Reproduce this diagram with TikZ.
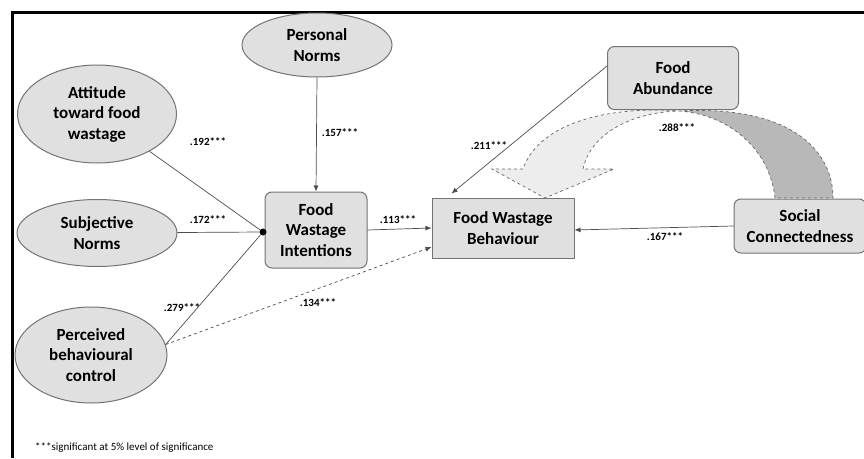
\documentclass[tikz,border=0pt]{standalone}
\usepackage{fontspec}
\setmainfont{Carlito}
\usepackage{xcolor}
\usepackage{tikz}
\usetikzlibrary{arrows.meta}
\usetikzlibrary{shapes.geometric, calc}
\definecolor{fondgris}{rgb}{0.88, 0.88, 0.88}
\definecolor{bordgris}{rgb}{0.45, 0.45, 0.45}
\definecolor{rubanclair}{rgb}{0.93, 0.93, 0.93}
\definecolor{rubanfonce}{rgb}{0.72, 0.72, 0.72}

\tikzset{
    ellipsenoeud/.style={ellipse, draw=bordgris, fill=fondgris, line width=1pt, inner sep=0pt, align=center, font=\fontsize{17}{20.5}\selectfont\bfseries},
    boiteronde/.style={rectangle, rounded corners=7pt, draw=bordgris, fill=fondgris, line width=1pt, inner sep=0pt, align=center, font=\fontsize{17}{20.5}\selectfont\bfseries},
    boitecarree/.style={rectangle, draw=bordgris, fill=fondgris, line width=1pt, inner sep=0pt, align=center, font=\fontsize{17}{20.5}\selectfont\bfseries},
    coef/.style={font=\fontsize{11}{12}\selectfont\bfseries, inner sep=1pt},
    fleche/.style={-{Latex[length=6pt, width=5pt]}, line width=0.7pt, draw=black!70}
}

\begin{document}
\begin{tikzpicture}[x=1pt, y=-1pt]
    \useasboundingbox (0, 0) rectangle (864, 458);

    % Cadre
    \draw[line width=3pt] (12, 458) -- (12, 12) -- (864, 12);

    % Ruban courbe entre les deux facteurs
    \fill[rubanfonce] (775, 198) .. controls (770, 150) and (730, 115) .. (680, 111)
        .. controls (790, 105) and (833, 150) .. (833, 198) -- cycle;
    \draw[dashed, draw=black!60, line width=0.7pt] (775, 198) .. controls (770, 150) and (730, 115) .. (680, 111)
        .. controls (790, 105) and (833, 150) .. (833, 198) -- cycle;
    \fill[rubanclair] (583, 169) .. controls (590, 135) and (630, 112) .. (680, 111)
        .. controls (615, 106) and (540, 120) .. (523, 169) -- (492, 169) -- (545, 198) -- (614, 169) -- cycle;
    \draw[dashed, draw=black!60, line width=0.7pt] (583, 169) .. controls (590, 135) and (630, 112) .. (680, 111)
        .. controls (615, 106) and (540, 120) .. (523, 169) -- (492, 169) -- (545, 198) -- (614, 169) -- cycle;

    % Variables latentes
    \node[ellipsenoeud, minimum width=150, minimum height=64] (pn) at (317, 45) {Personal\\Norms};
    \node[ellipsenoeud, minimum width=159, minimum height=98] (att) at (97, 114) {Attitude\\toward food\\wastage};
    \node[ellipsenoeud, minimum width=160, minimum height=67] (sn) at (97, 233) {Subjective\\Norms};
    \node[ellipsenoeud, minimum width=152, minimum height=96] (pbc) at (91, 355) {Perceived\\behavioural\\control};

    % Boites
    \node[boiteronde, minimum width=102, minimum height=76] (fwi) at (316, 230) {Food\\Wastage\\Intentions};
    \node[boitecarree, minimum width=142, minimum height=60] (fwb) at (503, 228) {Food Wastage\\Behaviour};
    \node[boiteronde, minimum width=131, minimum height=63] (fa) at (673, 78) {Food\\Abundance};
    \node[boiteronde, minimum width=132, minimum height=54] (sc) at (800, 226) {Social\\Connectedness};

    % Point de jonction
    \node[circle, fill=black, inner sep=0pt, minimum size=7pt] (jn) at (263, 232) {};

    % Liens
    \draw[line width=0.7pt, draw=black!70] (att) -- (jn);
    \draw[line width=0.7pt, draw=black!70] (sn) -- (jn);
    \draw[line width=0.7pt, draw=black!70] (pbc.8) -- (jn);
    \draw[fleche] (pn.south) -- (fwi.north);
    \draw[fleche] (fwi.east) -- (fwb.west);
    \draw[fleche, dashed] (pbc.8) -- ($(fwb.west)+(0, 19)$);
    \draw[fleche] ($(fa.west)+(0, -12)$) -- ($(fwb.north west)+(20, -4)$);
    \draw[fleche] (sc.west) -- ($(fwb.east)+(0, 2)$);

    % Coefficients
    \node[coef] at (208, 142) {.192***};
    \node[coef] at (208, 220) {.172***};
    \node[coef] at (182, 308) {.279***};
    \node[coef] at (318, 303) {.134***};
    \node[coef] at (340, 133) {.157***};
    \node[coef] at (398, 220) {.113***};
    \node[coef] at (489, 146) {.211***};
    \node[coef] at (677, 128) {.288***};
    \node[coef] at (665, 237) {.167***};

    % Note
    \node[anchor=west, inner sep=0pt, font=\fontsize{11}{13}\selectfont] at (35, 448) {***significant at 5\% level of significance};
\end{tikzpicture}
\end{document}
